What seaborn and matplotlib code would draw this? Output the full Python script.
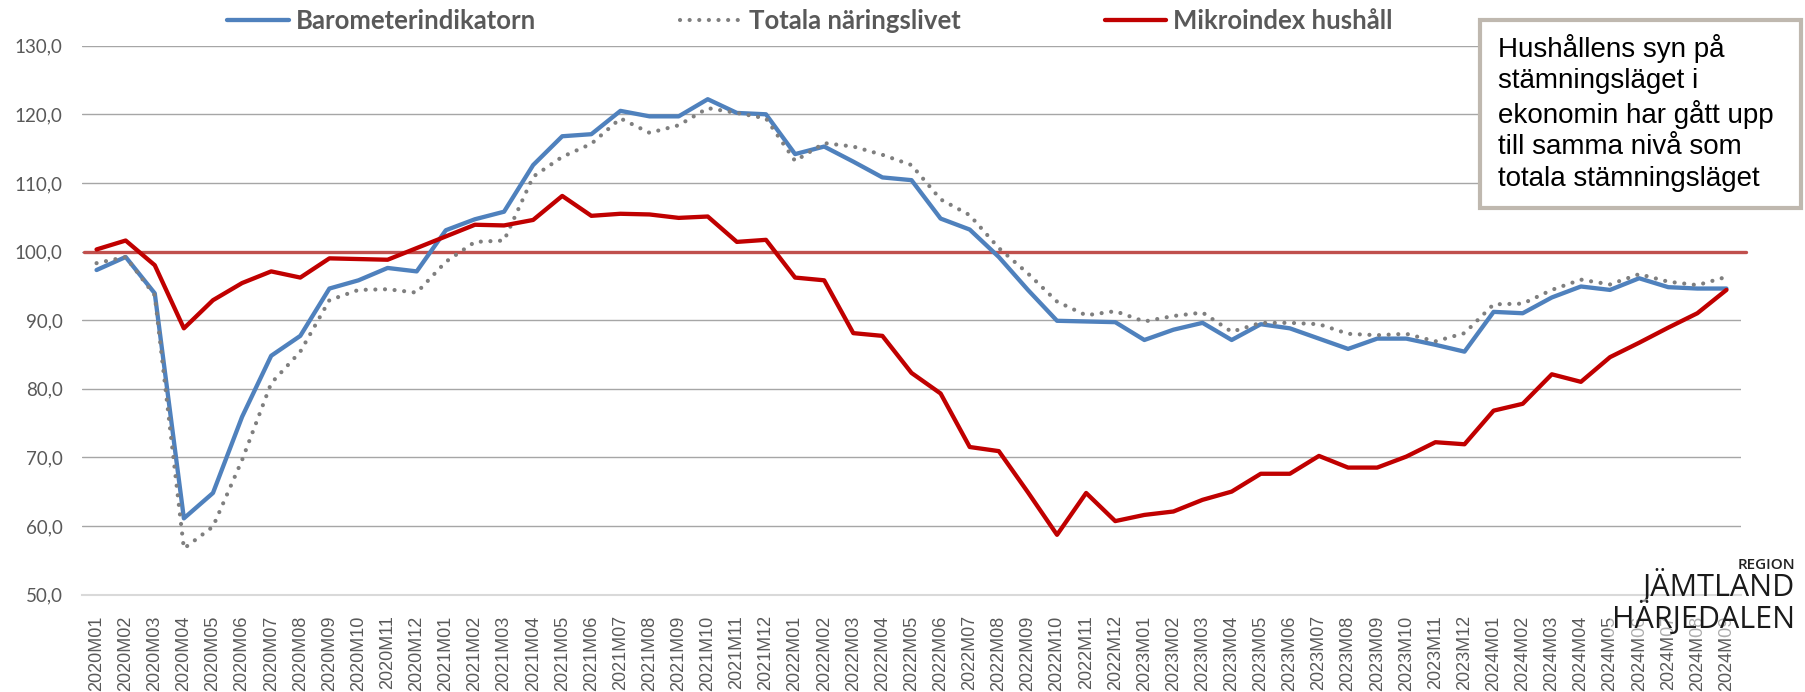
import matplotlib
matplotlib.use("Agg")
import matplotlib.pyplot as plt
import numpy as np
import pandas as pd
import seaborn as sns
from matplotlib.patches import Rectangle

# months 2020M01 .. 2024M09
months = [f"{y}M{m:02d}" for y in range(2020, 2025) for m in range(1, 13)][:57]

barometer = [97.3, 99.2, 93.9, 61.1, 64.8, 75.9, 84.8, 87.7, 94.6, 95.8, 97.6, 97.1,
             103.1, 104.7, 105.8, 112.6, 116.8, 117.1, 120.5, 119.7, 119.7, 122.2, 120.2, 120.0,
             114.2, 115.3, 113.1, 110.8, 110.4, 104.8, 103.2, 99.2, 94.4, 89.9, 89.8, 89.7,
             87.1, 88.6, 89.6, 87.1, 89.4, 88.8, 87.3, 85.8, 87.3, 87.3, 86.4, 85.4,
             91.2, 91.0, 93.3, 94.9, 94.4, 96.1, 94.8, 94.6, 94.6]

totala = [98.3, 99.2, 93.6, 56.7, 59.9, 69.6, 80.8, 85.4, 92.9, 94.4, 94.5, 94.0,
          98.5, 101.4, 101.6, 110.9, 113.8, 115.7, 119.4, 117.3, 118.4, 120.9, 120.2, 119.4,
          113.2, 115.8, 115.3, 114.1, 112.6, 107.6, 105.3, 100.5, 96.8, 92.7, 90.7, 91.3,
          89.8, 90.6, 91.1, 88.3, 89.6, 89.6, 89.4, 88.0, 87.8, 88.0, 86.9, 88.1,
          92.3, 92.4, 94.4, 95.9, 95.2, 96.7, 95.6, 95.1, 96.3]

mikro = [100.3, 101.6, 98.0, 88.8, 92.9, 95.4, 97.1, 96.2, 99.0, 98.9, 98.8, 100.5,
         102.2, 103.9, 103.8, 104.6, 108.1, 105.2, 105.5, 105.4, 104.9, 105.1, 101.4, 101.7,
         96.2, 95.8, 88.1, 87.7, 82.3, 79.3, 71.5, 70.9, 64.9, 58.7, 64.8, 60.7,
         61.6, 62.1, 63.8, 65.0, 67.6, 67.6, 70.2, 68.5, 68.5, 70.1, 72.2, 71.9,
         76.8, 77.8, 82.1, 81.0, 84.6, 86.7, 88.9, 91.0, 94.4]

y_ticks = [50, 60, 70, 80, 90, 100, 110, 120, 130]
ref_level = 100

note = ("Hushållens syn på\nstämningsläget i\nekonomin har gått upp\n"
        "till samma nivå som\ntotala stämningsläget")

df = pd.DataFrame({"Månad": months,
                   "Barometerindikatorn": barometer,
                   "Totala näringslivet": totala,
                   "Mikroindex hushåll": mikro})

sns.set_style("white")
plt.rcParams["font.family"] = ["Lato", "DejaVu Sans"]

W, H = 1805, 692
fig = plt.figure(figsize=(W / 100, H / 100), dpi=100)
ax = fig.add_axes([82 / W, 1 - 594.5 / H, (1741 - 82) / W, (594.5 - 45.7) / H])

# gridlines (bottom one is the axis line)
for v in y_ticks[1:]:
    ax.axhline(v, color="#A6A6A6", lw=1.0, zorder=0.5)

ax.axhline(ref_level, xmin=0.001, xmax=1.003, color="#C0504D", lw=2.4,
           zorder=1, clip_on=False)

sns.lineplot(data=df, x="Månad", y="Barometerindikatorn", ax=ax, color="#4F81BD",
             lw=3.1, sort=False, errorbar=None, legend=False, label="Barometerindikatorn",
             solid_joinstyle="round", solid_capstyle="round", zorder=2)
sns.lineplot(data=df, x="Månad", y="Totala näringslivet", ax=ax, color="#7F7F7F",
             lw=3.0, sort=False, errorbar=None, legend=False, label="Totala näringslivet",
             linestyle=(0, (0.01, 2.3)), dash_capstyle="round", zorder=3)
sns.lineplot(data=df, x="Månad", y="Mikroindex hushåll", ax=ax, color="#C00000",
             lw=3.1, sort=False, errorbar=None, legend=False, label="Mikroindex hushåll",
             solid_joinstyle="round", solid_capstyle="round", zorder=4)

ax.set_xlim(-0.5, len(months) - 0.5)
ax.set_ylim(y_ticks[0], y_ticks[-1])
ax.set_xlabel("")
ax.set_ylabel("")

ax.set_xticks(range(len(months)))
ax.set_xticklabels(months, rotation=90, fontsize=13, color="#595959",
                   family=["Liberation Sans", "DejaVu Sans"])
ax.set_yticks(y_ticks)
ax.set_yticklabels([f"{v:.1f}".replace(".", ",") for v in y_ticks],
                   fontsize=13.5, color="#595959")
ax.tick_params(axis="x", length=0, pad=15)
ax.tick_params(axis="y", length=0, pad=14)

for side in ["top", "right", "left"]:
    ax.spines[side].set_visible(False)
ax.spines["bottom"].set_color("#D9D9D9")
ax.spines["bottom"].set_linewidth(1.5)

leg = ax.legend(loc="center left", bbox_to_anchor=(227 / W, 1 - 21 / H),
                bbox_transform=fig.transFigure, ncol=3, frameon=False,
                prop={"weight": "bold", "size": 18.5}, handlelength=2.4,
                handletextpad=0.28, columnspacing=5.6, borderpad=0, borderaxespad=0)
for t in leg.get_texts():
    t.set_color("#595959")

# annotation box
box = Rectangle((1480 / W, 1 - 208 / H), (1801 - 1480) / W, (208 - 20) / H,
                transform=fig.transFigure, facecolor="white", edgecolor="#BFB8AF",
                lw=3, zorder=5)
fig.add_artist(box)
fig.text(1498 / W, 1 - 34 / H, note, ha="left", va="top", fontsize=20,
         family=["Liberation Sans", "DejaVu Sans"], color="black",
         linespacing=1.26, zorder=6)

# logo
fig.text(1795 / W, 1 - 565 / H, "REGION", ha="right", va="center", fontsize=11,
         family=["Open Sans", "DejaVu Sans"], weight="semibold", color="#222222")
fig.text(1795 / W, 1 - 586 / H, "JÄMTLAND", ha="right", va="center", fontsize=22,
         family=["Open Sans", "DejaVu Sans"], color="#1a1a1a")
fig.text(1795 / W, 1 - 618 / H, "HÄRJEDALEN", ha="right", va="center", fontsize=22,
         family=["Open Sans", "DejaVu Sans"], color="#1a1a1a",
         bbox=dict(facecolor="white", alpha=0.5, edgecolor="none", pad=1))

fig.savefig("out.png", dpi=100)
